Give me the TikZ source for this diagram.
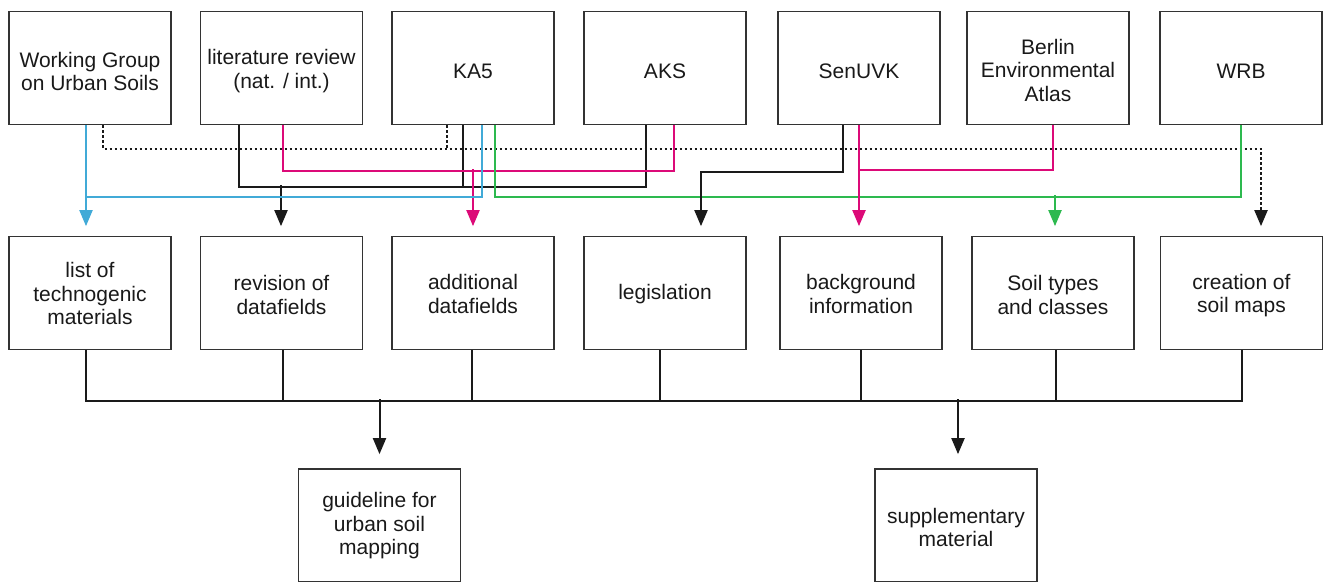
\documentclass[tikz,border=0pt]{standalone}
\usepackage{fontspec}
\setmainfont{Liberation Sans}
\usetikzlibrary{arrows.meta}
\definecolor{cblue}{HTML}{41AAD7}
\definecolor{cmag}{HTML}{DC0A78}
\definecolor{cgreen}{HTML}{2DB94F}
\definecolor{cbox}{HTML}{333333}
\definecolor{cline}{HTML}{1A1A1A}
\tikzset{
  box/.style={draw=cbox, line width=1.7pt, minimum width=162pt, minimum height=113pt,
    inner sep=0pt},
  txt/.style={align=center, inner sep=0pt, font=\fontsize{21pt}{23.5pt}\selectfont, text=black!90},
  con/.style={line width=2pt},
  kline/.style={con, draw=cline},
  bline/.style={con, draw=cblue},
  mline/.style={con, draw=cmag},
  gline/.style={con, draw=cgreen},
  dline/.style={con, draw=cline, dash pattern=on 2.4pt off 2.6pt},
  arr/.style={-{Triangle[length=16pt,width=13pt]}, shorten >=9.5pt},
  arrb/.style={-{Triangle[length=16pt,width=13pt]}, shorten >=14pt}
}
\newcommand\boxnode[4]{\node[box, label={[txt, yshift=#4]center:{#3}}] (#1) at (#2) {};}
\begin{document}
\begin{tikzpicture}[x=1pt,y=-1pt]
\useasboundingbox (0,0) rectangle (1325,581);
\clip (0,0) rectangle (1325,581);
% top row
\boxnode{wg}{90,68}{Working Group\\on Urban Soils}{-3.5pt}
\boxnode{lit}{281.5,68}{literature review\\(nat. / int.)}{-3pt}
\boxnode{ka5}{473,68}{KA5}{-3pt}
\boxnode{aks}{665,68}{AKS}{-3pt}
\boxnode{sen}{859,68}{SenUVK}{-3pt}
\boxnode{atl}{1048,68}{Berlin\\Environmental\\Atlas}{-2pt}
\boxnode{wrb}{1241,68}{WRB}{-3pt}
% middle row
\boxnode{lst}{90,293}{list of\\technogenic\\materials}{-0.5pt}
\boxnode{rev}{281.5,293}{revision of\\datafields}{-2pt}
\boxnode{add}{473,293}{additional\\datafields}{-1pt}
\boxnode{leg}{665,293}{legislation}{-1pt}
\boxnode{bg}{861,293}{background\\information}{-1pt}
\boxnode{soil}{1053,293}{Soil types\\and classes}{-2pt}
\boxnode{cre}{1241.5,293}{creation of\\soil maps}{-2.5pt}
% bottom row
\boxnode{gui}{379.5,525.5}{guideline for\\urban soil\\mapping}{-0.5pt}
\boxnode{sup}{956,525.5}{supplementary\\material}{-2pt}

% dotted line
\draw[dline] ([xshift=-26pt]ka5.south) -- ++(0,23.5);
\draw[dline, arr] ([xshift=13pt]wg.south) -- ++(0,23.5) -| ([xshift=19.5pt]cre.north);
% black (literature review / KA5 / AKS)
\draw[kline] ([xshift=-42.5pt]lit.south) -- ++(0,61.5) -| ([xshift=-19pt]aks.south);
\draw[kline] ([xshift=-10pt]ka5.south) -- ++(0,61.5);
\draw[kline, arr] ([xshift=-0.5pt]rev.north) ++(0,-50.5) -- ([xshift=-0.5pt]rev.north);
% magenta (literature review / AKS)
\draw[mline] ([xshift=1.5pt]lit.south) -- ++(0,45.5) -| ([xshift=9pt]aks.south);
\draw[mline, arr] (add.north) ++(0,-66.5) -- (add.north);
% blue (Working Group / KA5)
\draw[bline] ([xshift=9pt]ka5.south) -- ++(0,71.5) -| ([xshift=-4pt]wg.south);
\draw[bline, arr] ([xshift=-4pt]wg.south) -- ([xshift=-4pt]lst.north);
% green (KA5 / WRB)
\draw[gline] ([xshift=22pt]ka5.south) -- ++(0,71.5) -| (wrb.south);
\draw[gline, arr] ([xshift=2pt]soil.north) ++(0,-40.5) -- ([xshift=2pt]soil.north);
% black (SenUVK -> legislation)
\draw[kline, arr] ([xshift=-16pt]sen.south) -- ++(0,46.5) -| ([xshift=36pt]leg.north);
% magenta (SenUVK / Atlas -> background)
\draw[mline] ([xshift=5pt]atl.south) -- ++(0,45) -| (sen.south);
\draw[mline, arr] (sen.south) -- (sen.south |- bg.north);

% bottom collector
\draw[kline] ([xshift=-4pt]lst.south) -- ++(0,50.5) -| ([xshift=0.5pt]cre.south);
\draw[kline] ([xshift=1.5pt]rev.south) -- ++(0,50.5);
\draw[kline] ([xshift=-1pt]add.south) -- ++(0,50.5);
\draw[kline] ([xshift=-5pt]leg.south) -- ++(0,50.5);
\draw[kline] (bg.south) -- ++(0,50.5);
\draw[kline] ([xshift=3pt]soil.south) -- ++(0,50.5);
\draw[kline, arrb] (gui.north) ++(0,-69) -- (gui.north);
\draw[kline, arrb] ([xshift=2pt]sup.north) ++(0,-69) -- ([xshift=2pt]sup.north);
\end{tikzpicture}
\end{document}
